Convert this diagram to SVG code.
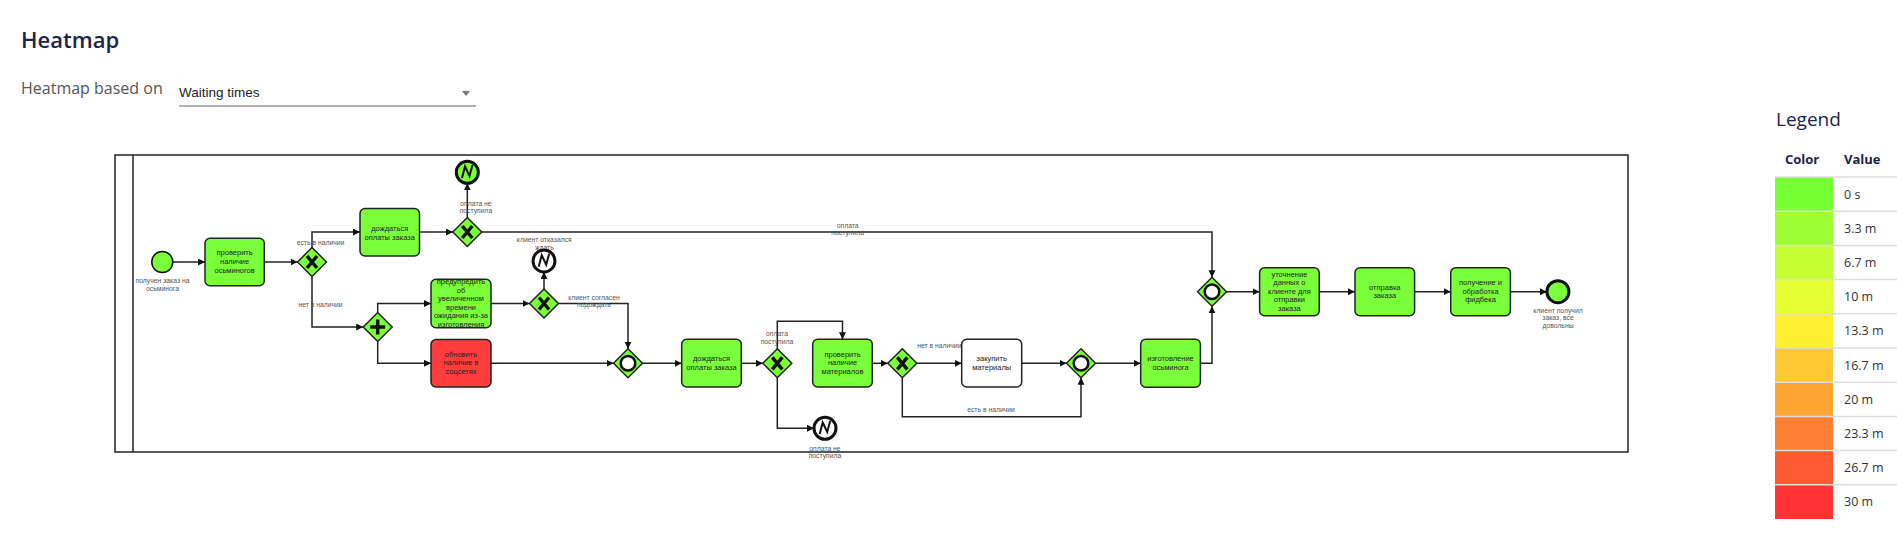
<svg xmlns="http://www.w3.org/2000/svg" width="1897" height="542" viewBox="0 0 1897 542">
<style>
.ui{font-family:"Open Sans","Noto Sans",sans-serif}
.title{font-size:22px;font-weight:600;fill:#1e2548}
.sub{font-size:16px;fill:#555}
.dd{font-family:"Liberation Sans",Arial,sans-serif;font-size:13.5px;fill:#222}
.lg{font-size:19px;fill:#1e2548}
.lh{font-size:13px;font-weight:700;fill:#1e2548}
.lv{font-size:12.5px;fill:#333}
.sep{stroke:#dddddd;stroke-width:1.5}
.frame{fill:none;stroke:#222;stroke-width:1.5}
.task{stroke:#222;stroke-width:1.5}
.g{fill:#7aff3a}
.r{fill:#ff3d3d}
.w{fill:#ffffff}
.tt{font-family:"Liberation Sans",Arial,sans-serif;font-size:7.5px;fill:#222;text-anchor:middle}
.lbl{font-family:"Liberation Sans",Arial,sans-serif;font-size:6.8px;fill:#555;text-anchor:middle}
.gw{stroke:#222;stroke-width:1.5;fill:#7aff3a}
.mk{stroke:#111;stroke-width:3.5;fill:none}
.orc{stroke:#111;stroke-width:2.5;fill:#fff}
.ev{stroke:#111;stroke-width:1.5}
.eev{stroke:#111;stroke-width:3}
.bolt{stroke:#111;stroke-width:2;fill:none;stroke-linejoin:miter}
.flow{fill:none;stroke:#222;stroke-width:1.5;marker-end:url(#arr)}
</style>
<defs>
<marker id="arr" markerUnits="userSpaceOnUse" markerWidth="8" markerHeight="8" refX="7" refY="3.5" orient="auto">
<path d="M0,0 L7,3.5 L0,7 z" fill="#111"/>
</marker>
</defs>
<rect width="1897" height="542" fill="#fff"/>

<g id="header" class="ui">
<text x="21" y="48" class="title">Heatmap</text>
<text x="21" y="94" class="sub">Heatmap based on</text>
<text x="179" y="97" class="dd">Waiting times</text>
<line x1="179" y1="106" x2="476" y2="106" stroke="#999" stroke-width="1.3"/>
<polygon points="462,91 470,91 466,96" fill="#777"/>
</g>

<g id="legend" class="ui">
<text x="1776" y="126" class="lg">Legend</text>
<text x="1785" y="164" class="lh">Color</text>
<text x="1844" y="164" class="lh">Value</text>
<rect x="1775" y="177" width="58" height="34.2" fill="#76ff33"/>
<rect x="1775" y="211.2" width="58" height="34.2" fill="#9cff33"/>
<rect x="1775" y="245.4" width="58" height="34.2" fill="#c3ff33"/>
<rect x="1775" y="279.6" width="58" height="34.2" fill="#e6ff33"/>
<rect x="1775" y="313.8" width="58" height="34.2" fill="#ffef33"/>
<rect x="1775" y="348" width="58" height="34.2" fill="#ffc933"/>
<rect x="1775" y="382.2" width="58" height="34.2" fill="#ffa533"/>
<rect x="1775" y="416.4" width="58" height="34.2" fill="#ff7f33"/>
<rect x="1775" y="450.6" width="58" height="34.2" fill="#ff5a33"/>
<rect x="1775" y="484.8" width="58" height="34.2" fill="#ff3333"/>
<line x1="1775" y1="177" x2="1897" y2="177" class="sep"/>
<line x1="1775" y1="211.2" x2="1897" y2="211.2" class="sep"/>
<line x1="1775" y1="245.4" x2="1897" y2="245.4" class="sep"/>
<line x1="1775" y1="279.6" x2="1897" y2="279.6" class="sep"/>
<line x1="1775" y1="313.8" x2="1897" y2="313.8" class="sep"/>
<line x1="1775" y1="348" x2="1897" y2="348" class="sep"/>
<line x1="1775" y1="382.2" x2="1897" y2="382.2" class="sep"/>
<line x1="1775" y1="416.4" x2="1897" y2="416.4" class="sep"/>
<line x1="1775" y1="450.6" x2="1897" y2="450.6" class="sep"/>
<line x1="1775" y1="484.8" x2="1897" y2="484.8" class="sep"/>
<text x="1844" y="198.5" class="lv">0 s</text>
<text x="1844" y="232.7" class="lv">3.3 m</text>
<text x="1844" y="266.9" class="lv">6.7 m</text>
<text x="1844" y="301.1" class="lv">10 m</text>
<text x="1844" y="335.3" class="lv">13.3 m</text>
<text x="1844" y="369.5" class="lv">16.7 m</text>
<text x="1844" y="403.7" class="lv">20 m</text>
<text x="1844" y="437.9" class="lv">23.3 m</text>
<text x="1844" y="472.1" class="lv">26.7 m</text>
<text x="1844" y="506.3" class="lv">30 m</text>
</g>

<g id="pool">
<rect x="115" y="155" width="1513" height="297" class="frame"/>
<line x1="133" y1="155" x2="133" y2="452" stroke="#222" stroke-width="1.5"/>
</g>

<g id="connectors">
<path class="flow" d="M172.8,262 H205"/>
<path class="flow" d="M264.3,262 H297.5"/>
<path class="flow" d="M312,247.5 V232 H360"/>
<path class="flow" d="M419.5,232 H452.8"/>
<path class="flow" d="M467.3,217.5 V183.3"/>
<path class="flow" d="M481.8,232 H1212 V277.2"/>
<path class="flow" d="M312,276.5 V327 H363.2"/>
<path class="flow" d="M377.7,312.5 V303.5 H431"/>
<path class="flow" d="M377.7,341.5 V363.3 H431"/>
<path class="flow" d="M491,303.5 H529.5"/>
<path class="flow" d="M544,289 V272"/>
<path class="flow" d="M558.5,303.5 H628 V348.8"/>
<path class="flow" d="M491,363.3 H613.5"/>
<path class="flow" d="M642.5,363.3 H681.7"/>
<path class="flow" d="M741.3,363.3 H762.8"/>
<path class="flow" d="M777.3,348.8 V321.3 H842.5 V339.3"/>
<path class="flow" d="M777.3,377.8 V428.3 H814"/>
<path class="flow" d="M872.3,363.3 H887.8"/>
<path class="flow" d="M916.8,363.3 H961.7"/>
<path class="flow" d="M902.3,377.8 V416.7 H1081 V377.8"/>
<path class="flow" d="M1021.7,363.3 H1066.5"/>
<path class="flow" d="M1095.5,363.3 H1140.7"/>
<path class="flow" d="M1200.4,363.3 H1212 V306.2"/>
<path class="flow" d="M1226.5,291.7 H1259.6"/>
<path class="flow" d="M1319.2,291.7 H1355"/>
<path class="flow" d="M1414.6,291.7 H1450.7"/>
<path class="flow" d="M1510.4,291.7 H1546.9"/>
<text class="lbl" x="320.5" y="244.5">есть в наличии</text>
<text class="lbl" x="320.5" y="307.3">нет в наличии</text>
<text class="lbl" x="476" y="205.6">оплата не</text>
<text class="lbl" x="476" y="213.3">поступила</text>
<text class="lbl" x="544.3" y="242.3">клиент отказался</text>
<text class="lbl" x="544.3" y="249.6">ждать</text>
<text class="lbl" x="847.7" y="227.6">оплата</text>
<text class="lbl" x="847.7" y="235.3">поступила</text>
<text class="lbl" x="594" y="299.6">клиент согласен</text>
<text class="lbl" x="594" y="307.3">подождать</text>
<text class="lbl" x="777" y="336.3">оплата</text>
<text class="lbl" x="777" y="344">поступила</text>
<text class="lbl" x="825" y="450.6">оплата не</text>
<text class="lbl" x="825" y="458.3">поступила</text>
<text class="lbl" x="939.3" y="348.3">нет в наличии</text>
<text class="lbl" x="991" y="412.3">есть в наличии</text>
</g>

<g id="start">
<circle cx="162.3" cy="262" r="10.5" class="ev g"/>
<text class="lbl" x="162.5" y="283.3">получен заказ на</text>
<text class="lbl" x="162.5" y="291.3">осьминога</text>
</g>

<g id="t_check_octopus">
<rect x="205" y="238.3" width="59.3" height="47.4" rx="5" class="task g"/>
<text class="tt" x="234.6" y="255">проверить</text>
<text class="tt" x="234.6" y="264">наличие</text>
<text class="tt" x="234.6" y="273">осьминогов</text>
</g>

<g id="gw1">
<polygon class="gw" points="312,247.5 326.5,262 312,276.5 297.5,262"/>
<path class="mk" d="M307,256 L317,268 M317,256 L307,268"/>
</g>

<g id="t_wait_pay1">
<rect x="360" y="208.5" width="59.5" height="47.5" rx="5" class="task g"/>
<text class="tt" x="389.7" y="230.8">дождаться</text>
<text class="tt" x="389.7" y="239.5">оплаты заказа</text>
</g>

<g id="gw2">
<polygon class="gw" points="467.3,217.5 481.8,232 467.3,246.5 452.8,232"/>
<path class="mk" d="M462.3,226 L472.3,238 M472.3,226 L462.3,238"/>
</g>

<g id="end_top">
<circle cx="467.3" cy="172.3" r="11" class="eev g"/>
<polyline class="bolt" points="462,178 465,166.5 469.5,176 472.5,165"/>
</g>

<g id="gw_par">
<polygon class="gw" points="377.7,312.5 392.2,327 377.7,341.5 363.2,327"/>
<path class="mk" d="M370.2,327 H385.2 M377.7,319.5 V334.5"/>
</g>

<g id="t_warn">
<rect x="431" y="279.3" width="60" height="48.4" rx="5" class="task g"/>
<text class="tt" x="461" y="284.3">предупредить</text>
<text class="tt" x="461" y="292.8">об</text>
<text class="tt" x="461" y="301.3">увеличенном</text>
<text class="tt" x="461" y="309.8">времени</text>
<text class="tt" x="461" y="318.3">ожидания из-за</text>
<text class="tt" x="461" y="326.8">изготовления</text>
</g>

<g id="t_update">
<rect x="431" y="339.5" width="60" height="47.5" rx="5" class="task r"/>
<text class="tt" x="461" y="356.8">обновить</text>
<text class="tt" x="461" y="365.3">наличие в</text>
<text class="tt" x="461" y="373.8">соцсетях</text>
</g>

<g id="gw3">
<polygon class="gw" points="544,289 558.5,303.5 544,318 529.5,303.5"/>
<path class="mk" d="M539,297.5 L549,309.5 M549,297.5 L539,309.5"/>
</g>

<g id="end_refused">
<circle cx="544" cy="261" r="11" class="eev w"/>
<polyline class="bolt" points="538.7,266.7 541.7,255.2 546.2,264.7 549.2,253.7"/>
</g>

<g id="or1">
<polygon class="gw" points="628,348.8 642.5,363.3 628,377.8 613.5,363.3"/>
<circle cx="628" cy="363.3" r="7.3" class="orc"/>
</g>

<g id="t_wait_pay2">
<rect x="681.7" y="339.3" width="59.6" height="47.6" rx="5" class="task g"/>
<text class="tt" x="711.5" y="361">дождаться</text>
<text class="tt" x="711.5" y="369.7">оплаты заказа</text>
</g>

<g id="gw4">
<polygon class="gw" points="777.3,348.8 791.8,363.3 777.3,377.8 762.8,363.3"/>
<path class="mk" d="M772.3,357.3 L782.3,369.3 M782.3,357.3 L772.3,369.3"/>
</g>

<g id="end_nopay">
<circle cx="825" cy="428.3" r="11" class="eev w"/>
<polyline class="bolt" points="819.7,434 822.7,422.5 827.2,432 830.2,421"/>
</g>

<g id="t_check_mat">
<rect x="812.7" y="339.3" width="59.6" height="47.6" rx="5" class="task g"/>
<text class="tt" x="842.5" y="356.6">проверить</text>
<text class="tt" x="842.5" y="365.2">наличие</text>
<text class="tt" x="842.5" y="373.8">материалов</text>
</g>

<g id="gw5">
<polygon class="gw" points="902.3,348.8 916.8,363.3 902.3,377.8 887.8,363.3"/>
<path class="mk" d="M897.3,357.3 L907.3,369.3 M907.3,357.3 L897.3,369.3"/>
</g>

<g id="t_buy">
<rect x="961.7" y="339.3" width="60" height="47.6" rx="5" class="task w"/>
<text class="tt" x="991.7" y="361">закупить</text>
<text class="tt" x="991.7" y="369.7">материалы</text>
</g>

<g id="or2">
<polygon class="gw" points="1081,348.8 1095.5,363.3 1081,377.8 1066.5,363.3"/>
<circle cx="1081" cy="363.3" r="7.3" class="orc"/>
</g>

<g id="t_make">
<rect x="1140.7" y="339.3" width="59.7" height="48" rx="5" class="task g"/>
<text class="tt" x="1170.5" y="360.8">изготовление</text>
<text class="tt" x="1170.5" y="369.5">осьминога</text>
</g>

<g id="or3">
<polygon class="gw" points="1212,277.2 1226.5,291.7 1212,306.2 1197.5,291.7"/>
<circle cx="1212" cy="291.7" r="7.3" class="orc"/>
</g>

<g id="t_clarify">
<rect x="1259.6" y="267.7" width="59.6" height="48" rx="5" class="task g"/>
<text class="tt" x="1289.4" y="277">уточнение</text>
<text class="tt" x="1289.4" y="285.4">данных о</text>
<text class="tt" x="1289.4" y="293.8">клиенте для</text>
<text class="tt" x="1289.4" y="302.2">отправки</text>
<text class="tt" x="1289.4" y="310.6">заказа</text>
</g>

<g id="t_send">
<rect x="1355" y="267.7" width="59.6" height="48" rx="5" class="task g"/>
<text class="tt" x="1384.8" y="289.5">отправка</text>
<text class="tt" x="1384.8" y="297.9">заказа</text>
</g>

<g id="t_feedback">
<rect x="1450.7" y="267.7" width="59.7" height="48" rx="5" class="task g"/>
<text class="tt" x="1480.5" y="284.9">получение и</text>
<text class="tt" x="1480.5" y="293.5">обработка</text>
<text class="tt" x="1480.5" y="302.1">фидбека</text>
</g>

<g id="end_ok">
<circle cx="1557.9" cy="291.7" r="11" class="eev g"/>
<text class="lbl" x="1558" y="312.6">клиент получил</text>
<text class="lbl" x="1558" y="320.3">заказ, все</text>
<text class="lbl" x="1558" y="328.3">довольны</text>
</g>
</svg>
